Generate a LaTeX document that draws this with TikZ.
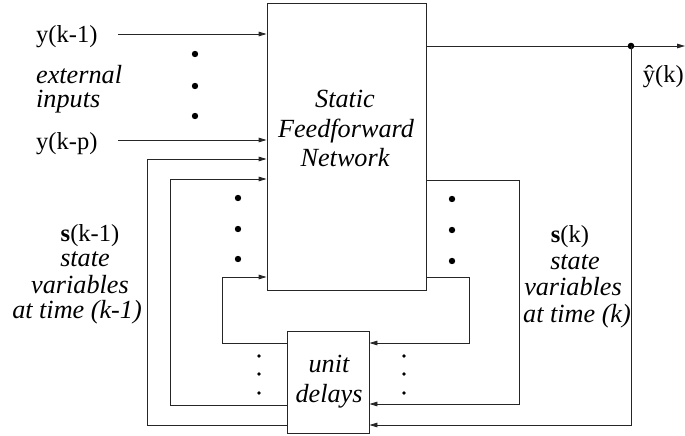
\documentclass[tikz,border=0pt]{standalone}
\usepackage{fontspec}
\setmainfont{Liberation Serif}
\usetikzlibrary{arrows.meta}
\begin{document}
\begin{tikzpicture}[x=1pt,y=-1pt,
  wire/.style={line width=0.9pt,draw=black!85},
  arr/.style={wire,-{Triangle[length=8pt,width=4.6pt]}},
  block/.style={rectangle,draw=black!85,line width=0.9pt,inner sep=0pt},
  rmtext/.style={font=\fontsize{24.5}{26}\selectfont,inner sep=0pt},
  ittext/.style={font=\fontsize{26.2}{28}\selectfont\itshape,inner sep=0pt},
]
\useasboundingbox (0,0) rectangle (685,436);

% blocks
\node[block,minimum width=159pt,minimum height=287pt] (net) at (346.5,146.5) {};
\node[block,minimum width=82pt,minimum height=102pt] (delay) at (328,382) {};

% block texts
\node[ittext,anchor=base] (t1) at (345,107) {Static};
\node[ittext,anchor=base] (t2) at (346,137) {Feedforward};
\node[ittext,anchor=base] (t3) at (345,166) {Network};
\node[ittext,anchor=base] (u1) at (329,372) {unit};
\node[ittext,anchor=base] (u2) at (329,402) {delays};

% external inputs
\node[rmtext,anchor=base west] (y1) at (36,43) {y(k-1)};
\node[ittext,anchor=base west] (e1) at (36,83) {external};
\node[ittext,anchor=base west] (e2) at (36,107) {inputs};
\node[rmtext,anchor=base west] (yp) at (36,149) {y(k-p)};
\coordinate (i1) at (118,34);
\coordinate (ip) at (118,140);
\draw[arr] (i1) -- (i1 -| net.west);
\draw[arr] (ip) -- (ip -| net.west);

% output
\coordinate (tap) at (631,46);
\coordinate (out) at (685,46);
\draw[arr] (tap -| net.east) -- (out);
\fill (tap) circle (3.3);
\node[rmtext,anchor=base east] (yh) at (684,82) {\^{y}(k)};

% state labels
\node[rmtext,anchor=base] (sl1) at (90,241) {\textbf{s}(k-1)};
\node[ittext,anchor=base] (sl2) at (85,266) {state};
\node[ittext,anchor=base] (sl3) at (80,293) {variables};
\node[ittext,anchor=base] (sl4) at (77,318) {at time (k-1)};
\node[rmtext,anchor=base] (sr1) at (570,242) {\textbf{s}(k)};
\node[ittext,anchor=base] (sr2) at (575,269) {state};
\node[ittext,anchor=base] (sr3) at (573,295) {variables};
\node[ittext,anchor=base] (sr4) at (577,322) {at time (k)};

% feedback from output through the delays
\coordinate (r3) at (631,425);
\draw[arr] (tap) -- (r3) -- (r3 -| delay.east);

% state outputs into the delays
\coordinate (ra) at (519,180);
\coordinate (rb) at (519,404);
\draw[arr] (ra -| net.east) -- (ra) -- (rb) -- (rb -| delay.east);
\coordinate (rc) at (469,277);
\coordinate (rd) at (469,343);
\draw[arr] (rc -| net.east) -- (rc) -- (rd) -- (rd -| delay.east);

% delayed states back into the network
\coordinate (la) at (147,425);
\coordinate (lb) at (147,159);
\draw[arr] (la -| delay.west) -- (la) -- (lb) -- (lb -| net.west);
\coordinate (lc) at (170,405);
\coordinate (ld) at (170,179);
\draw[arr] (lc -| delay.west) -- (lc) -- (ld) -- (ld -| net.west);
\coordinate (le) at (222,343);
\coordinate (lf) at (222,277);
\draw[arr] (le -| delay.west) -- (le) -- (lf) -- (lf -| net.west);

% ellipsis dots
\foreach \y in {54,86,116} \fill (195,\y) circle (3.2);
\foreach \y in {198,229,259} \fill (238,\y) circle (3.2);
\foreach \y in {199,230,261} \fill (452,\y) circle (3.2);
\foreach \y in {356,374,393} \fill (259,\y) circle (1.9);
\foreach \y in {356,374,393} \fill (404,\y) circle (1.9);
\end{tikzpicture}
\end{document}
